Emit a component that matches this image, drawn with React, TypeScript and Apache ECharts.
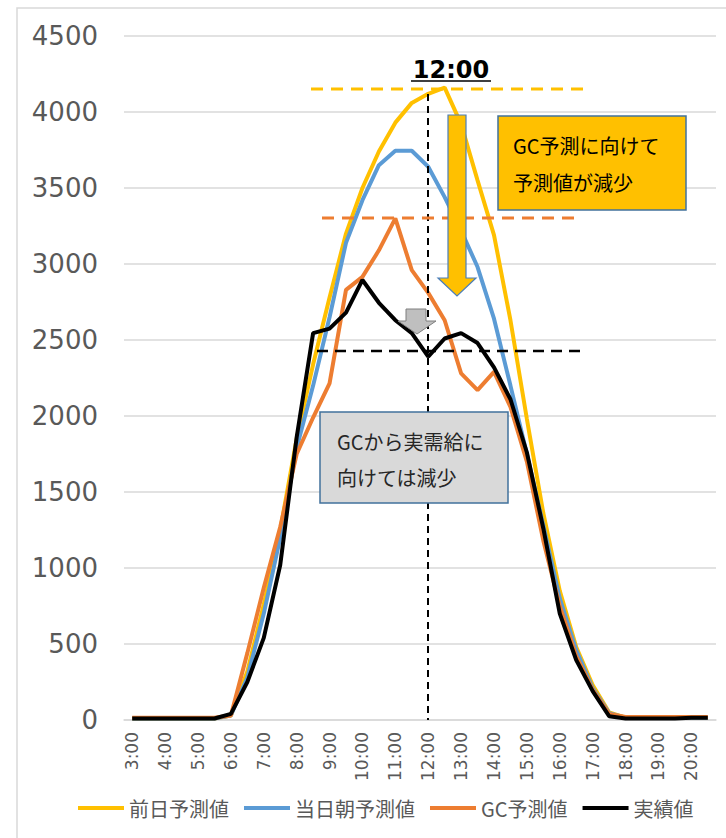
import React, { useEffect, useRef } from "react";
import * as echarts from "echarts";

const categories = [
  "3:00", "3:30", "4:00", "4:30", "5:00", "5:30", "6:00", "6:30", "7:00", "7:30",
  "8:00", "8:30", "9:00", "9:30", "10:00", "10:30", "11:00", "11:30", "12:00", "12:30",
  "13:00", "13:30", "14:00", "14:30", "15:00", "15:30", "16:00", "16:30", "17:00", "17:30",
  "18:00", "18:30", "19:00", "19:30", "20:00", "20:30",
];

const dayAheadForecast = [
  10, 10, 10, 10, 10, 10, 30, 320, 760, 1250,
  1850, 2340, 2780, 3200, 3500, 3740, 3930, 4060, 4120, 4160,
  3920, 3550, 3190, 2630, 1980, 1360, 850, 480, 230, 50,
  15, 15, 15, 15, 15, 15,
];

const morningForecast = [
  10, 10, 10, 10, 10, 10, 30, 280, 700, 1200,
  1790, 2200, 2650, 3140, 3420, 3650, 3745, 3745, 3640, 3440,
  3220, 2980, 2640, 2200, 1750, 1280, 800, 460, 210, 45,
  15, 15, 15, 15, 15, 15,
];

const gcForecast = [
  15, 15, 15, 15, 15, 15, 30, 440, 870, 1270,
  1750, 1990, 2215, 2830, 2915, 3090, 3300, 2960, 2810, 2630,
  2280, 2170, 2290, 2060, 1700, 1180, 750, 420, 200, 40,
  20, 20, 20, 20, 20, 20,
];

const actualValues = [
  10, 10, 10, 10, 10, 10, 40, 250, 540, 1020,
  1860, 2545, 2575, 2680, 2895, 2745, 2630, 2545, 2390, 2510,
  2545, 2480, 2320, 2110, 1760, 1260, 700, 395, 190, 25,
  10, 10, 10, 10, 15, 15,
];

const seriesNames = ["前日予測値", "当日朝予測値", "GC予測値", "実績値"];
const seriesColors = ["#FFC000", "#5B9BD5", "#ED7D31", "#000000"];

const JP = '"Noto Sans CJK JP", "Noto Sans", sans-serif';
const NUM = '"DejaVu Sans", sans-serif';

export default function App() {
  const ref = useRef<HTMLDivElement>(null);

  useEffect(() => {
    if (!ref.current) return;
    const chart = echarts.init(ref.current, null, { renderer: "svg" });
    const dataSets = [dayAheadForecast, morningForecast, gcForecast, actualValues];

    chart.setOption({
      animation: false,
      backgroundColor: "#ffffff",
      grid: { left: 124, right: 10, top: 36, bottom: 118, containLabel: false },
      legend: {
        data: seriesNames,
        left: 78,
        top: 798,
        padding: 0,
        icon: "rect",
        itemWidth: 46,
        itemHeight: 4,
        itemGap: 15,
        textStyle: { fontFamily: JP, fontSize: 20, color: "#595959" },
      },
      xAxis: {
        type: "category",
        data: categories,
        boundaryGap: true,
        axisTick: { show: false },
        axisLine: { lineStyle: { color: "#D9D9D9", width: 1.5 } },
        axisLabel: {
          interval: 1,
          rotate: 90,
          margin: 12,
          fontFamily: NUM,
          fontSize: 17,
          color: "#595959",
        },
        splitLine: { show: false },
      },
      yAxis: {
        type: "value",
        min: 0,
        max: 4500,
        interval: 500,
        axisLine: { show: false },
        axisTick: { show: false },
        axisLabel: {
          margin: 26,
          fontFamily: NUM,
          fontSize: 26,
          color: "#595959",
          formatter: (v: number) => String(v),
        },
        splitLine: { lineStyle: { color: "#D9D9D9", width: 1.5 } },
      },
      series: seriesNames.map((name, i) => ({
        name,
        type: "line",
        data: dataSets[i],
        symbol: "none",
        z: 2 + i,
        lineStyle: { color: seriesColors[i], width: 4 },
        itemStyle: { color: seriesColors[i] },
      })),
      graphic: [
        {
          type: "rect",
          shape: { x: 17, y: 8, width: 730, height: 850 },
          style: { fill: "none", stroke: "#D9D9D9", lineWidth: 1.5 },
          z: 1,
        },
        {
          type: "line",
          shape: { x1: 428, y1: 94, x2: 428, y2: 720 },
          style: { stroke: "#000", lineWidth: 2, lineDash: [7, 5] },
          z: 20,
        },
        {
          type: "line",
          shape: { x1: 311, y1: 89, x2: 588, y2: 89 },
          style: { stroke: "#FFC000", lineWidth: 3, lineDash: [12, 8] },
          z: 20,
        },
        {
          type: "line",
          shape: { x1: 322, y1: 218, x2: 578, y2: 218 },
          style: { stroke: "#ED7D31", lineWidth: 3, lineDash: [12, 8] },
          z: 20,
        },
        {
          type: "line",
          shape: { x1: 317, y1: 351, x2: 584, y2: 351 },
          style: { stroke: "#000", lineWidth: 2.5, lineDash: [11, 7] },
          z: 20,
        },
        {
          type: "text",
          x: 451,
          y: 70,
          style: {
            text: "12:00",
            fontFamily: NUM,
            fontWeight: "bold",
            fontSize: 24,
            fill: "#000",
            align: "center",
            verticalAlign: "middle",
          },
          z: 30,
        },
        {
          type: "line",
          shape: { x1: 411, y1: 81, x2: 491, y2: 81 },
          style: { stroke: "#000", lineWidth: 1.5 },
          z: 30,
        },
        {
          type: "polygon",
          shape: {
            points: [
              [448, 115], [466, 115], [466, 278], [476, 278],
              [457, 296], [438, 278], [448, 278],
            ],
          },
          style: { fill: "#FFC000", stroke: "#4A7EBB", lineWidth: 1.2 },
          z: 30,
        },
        {
          type: "rect",
          shape: { x: 498, y: 116, width: 188, height: 94 },
          style: { fill: "#FFC000", stroke: "#41719C", lineWidth: 1.5 },
          z: 30,
        },
        {
          type: "text",
          x: 513,
          y: 145,
          style: { text: "GC予測に向けて", fontFamily: JP, fontSize: 20, fill: "#000", verticalAlign: "middle" },
          z: 31,
        },
        {
          type: "text",
          x: 513,
          y: 182,
          style: { text: "予測値が減少", fontFamily: JP, fontSize: 20, fill: "#000", verticalAlign: "middle" },
          z: 31,
        },
        {
          type: "polygon",
          shape: {
            points: [
              [406, 309], [426, 309], [426, 321], [436, 321],
              [417, 334], [398, 321], [406, 321],
            ],
          },
          style: { fill: "#BFBFBF", stroke: "#7F7F7F", lineWidth: 1 },
          z: 30,
        },
        {
          type: "rect",
          shape: { x: 320, y: 412, width: 188, height: 91 },
          style: { fill: "#D9D9D9", stroke: "#41719C", lineWidth: 1.5 },
          z: 30,
        },
        {
          type: "text",
          x: 337,
          y: 441,
          style: { text: "GCから実需給に", fontFamily: JP, fontSize: 20, fill: "#262626", verticalAlign: "middle" },
          z: 31,
        },
        {
          type: "text",
          x: 337,
          y: 477,
          style: { text: "向けては減少", fontFamily: JP, fontSize: 20, fill: "#262626", verticalAlign: "middle" },
          z: 31,
        },
      ],
    });

    return () => chart.dispose();
  }, []);

  return (
    <div
      ref={ref}
      style={{ position: "absolute", left: 0, top: 0, width: 726, height: 838, background: "#fff" }}
    />
  );
}
